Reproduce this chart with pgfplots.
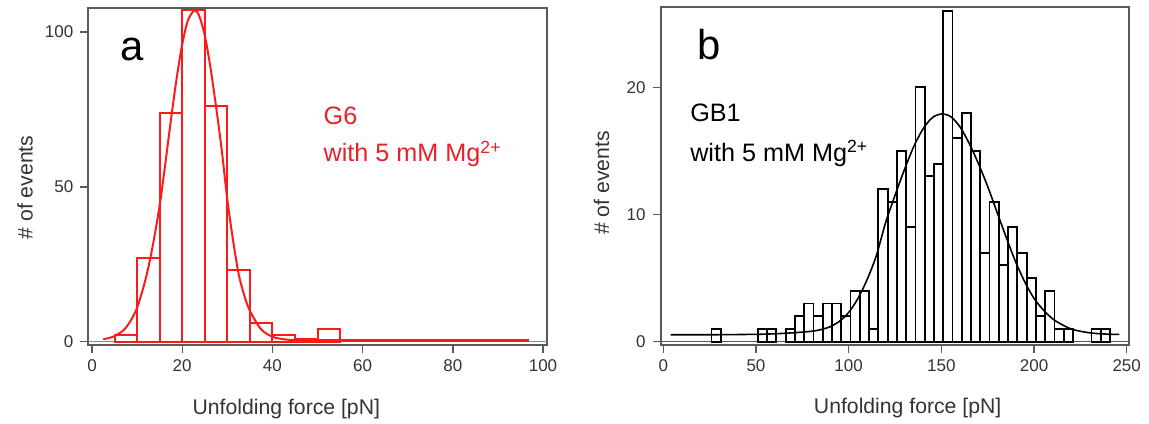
\documentclass[border=0pt]{standalone}
\usepackage{fontspec}
\setmainfont{Liberation Sans}
\usepackage{pgfplots}
\pgfplotsset{compat=1.18}
\definecolor{framegray}{HTML}{5A5A5A}
\definecolor{tickgray}{HTML}{333333}
\definecolor{redA}{HTML}{FF1A1A}
\definecolor{redT}{HTML}{E8202A}

\pgfplotsset{myax/.style={
  scale only axis, anchor=south west,
  axis line style={framegray,line width=0.9pt},
  tick pos=left, tick align=outside, major tick length=4pt,
  every tick/.style={framegray,line width=0.7pt},
  ticklabel style={font=\fontsize{8.5}{10}\selectfont, text=tickgray},
  /pgf/number format/assume math mode=true,
  label style={font=\fontsize{10.6}{12}\selectfont, text=tickgray},
}}

\begin{document}
\begin{tikzpicture}[x=1pt,y=1pt]
\path[use as bounding box] (0,0) rectangle (574.5,211.5);

% ---------------- panel a ----------------
\begin{axis}[myax, at={(44.15pt,39pt)}, width=229.2pt, height=168.35pt,
  xmin=-0.82, xmax=100.82, ymin=-1.07, ymax=107.7,
  xtick={0,20,40,60,80,100}, ytick={0,50,100},
  xlabel={Unfolding force [pN]}, ylabel={\# of events},
  xlabel style={at={(axis description cs:0.432,-0.205)}, anchor=base},
  ylabel style={at={(axis description cs:-0.138,0.468)}, anchor=center},
]
\addplot[framegray!70, line width=0.6pt] coordinates {(-0.82,0) (100.82,0)};
\addplot[ybar, bar width=5, bar shift=0pt, draw=redA, fill=none, line width=1pt] coordinates {
 (7.5,2) (12.5,27) (17.5,74) (22.5,107) (27.5,76) (32.5,23) (37.5,6) (42.5,2) (47.5,1) (52.5,4)};
\addplot[redA, line width=1pt, smooth] coordinates {
 (2.5,0.8) (5,1.8) (7.5,4.5) (10,11) (12.5,24) (15,44) (17.5,71.6) (18.75,84.9)
 (20,96) (21.25,103.7) (22.7,107) (23.75,105.3) (25,99) (26.25,88.7) (27.5,76)
 (28.75,62.1) (30,46) (31.25,33) (32.5,22) (33.75,15) (35,10) (37.5,4) (40,1.6)
 (42.5,0.8) (45,0.45)};
\addplot[redA, line width=1.6pt] coordinates {(44,0.4) (97,0.4)};
\node[anchor=base west, font=\fontsize{20.9}{24}\selectfont] at (axis description cs:0.0545,0.846) {a};
\node[anchor=base west, font=\fontsize{12.6}{15}\selectfont, text=redT] at (axis description cs:0.498,0.656) {G6};
\node[anchor=base west, font=\fontsize{12.6}{15}\selectfont, text=redT] at (axis description cs:0.498,0.544) {with 5 mM Mg\textsuperscript{2+}};
\end{axis}

% ---------------- panel b ----------------
\begin{axis}[myax, at={(330.35pt,39pt)}, width=234.3pt, height=168.85pt,
  xmin=-1.4, xmax=251.4, ymin=-0.26, ymax=26.29,
  xtick={0,50,100,150,200,250}, ytick={0,10,20},
  xlabel={Unfolding force [pN]}, ylabel={\# of events},
  xlabel style={at={(axis description cs:0.527,-0.204)}, anchor=base},
  ylabel style={at={(axis description cs:-0.126,0.48)}, anchor=center},
]
\addplot[framegray, line width=0.8pt] coordinates {(-1.4,0) (251.4,0)};
\addplot[ybar, bar width=5, bar shift=0pt, draw=black, fill=none, line width=0.9pt] coordinates {
 (28.5,1) (53.5,1) (58.5,1) (68.5,1) (73.5,2) (78.5,3)
 (83.5,2) (88.5,3) (93.5,3) (98.5,2) (103.5,4) (108.5,4) (113.5,1) (118.5,12) (123.5,11) (128.5,15)
 (133.5,9) (138.5,20) (143.5,13) (148.5,14) (153.5,26) (158.5,16) (163.5,18) (168.5,15) (173.5,7)
 (178.5,11) (183.5,6) (188.5,9) (193.5,7) (198.5,5) (203.5,2) (208.5,4) (213.5,1) (218.5,1)
 (233.5,1) (238.5,1)};
\addplot[black, line width=0.8pt, smooth] coordinates {
 (4,0.55) (30,0.55) (50,0.58) (60,0.62) (70,0.7) (80,0.82) (85,0.95) (90,1.18)
 (95,1.6) (100,2.3) (105,3.4) (110,4.9) (115,6.8) (120,9.4) (125,11.5) (130,13.5)
 (135,15.3) (140,16.7) (145,17.6) (150,17.9) (155,17.7) (160,16.9) (165,15.6)
 (170,14.0) (175,12.2) (180,10.2) (185,8.2) (190,6.3) (195,4.7) (200,3.4) (205,2.5)
 (210,1.8) (215,1.35) (220,1.0) (225,0.82) (230,0.7) (235,0.63) (240,0.59) (246,0.57)};
\node[anchor=base west, font=\fontsize{20.9}{24}\selectfont] at (axis description cs:0.0625,0.844) {b};
\node[anchor=base west, font=\fontsize{12.6}{15}\selectfont] at (axis description cs:0.048,0.661) {GB1};
\node[anchor=base west, font=\fontsize{12.6}{15}\selectfont] at (axis description cs:0.048,0.543) {with 5 mM Mg\textsuperscript{2+}};
\end{axis}
\end{tikzpicture}
\end{document}
